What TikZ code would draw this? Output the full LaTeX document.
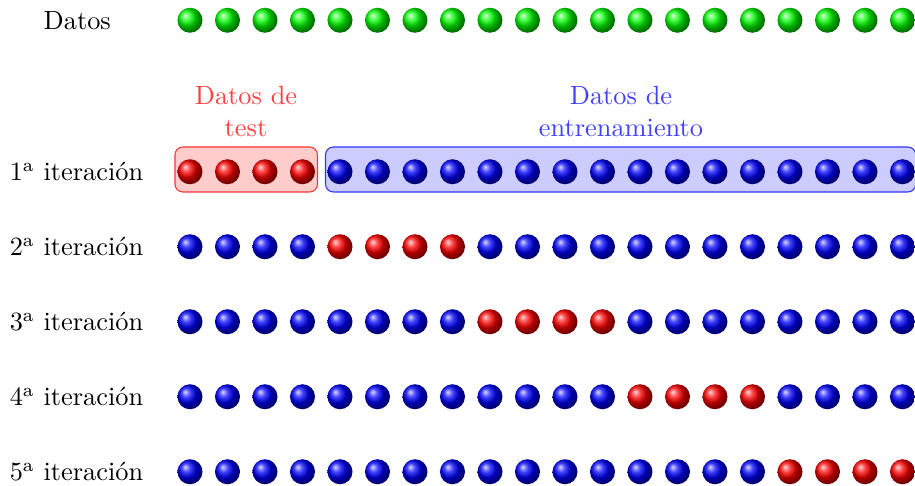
\documentclass[tikz,border=0pt]{standalone}
\usepackage{fontspec}
\usetikzlibrary{shadings}
\tikzset{
  ballnode/.style={circle, minimum size=0.34cm, inner sep=0pt},
  rowlabel/.style={anchor=center},
  testbox/.style={draw=red!80, fill=red!20, rounded corners=3pt, minimum height=0.6cm, inner sep=0pt},
  trainbox/.style={draw=blue!80, fill=blue!20, rounded corners=3pt, minimum height=0.6cm, inner sep=0pt},
  testlabel/.style={text=red!75, align=center},
  trainlabel/.style={text=blue!75, align=center}
}
\begin{document}
\begin{tikzpicture}
\useasboundingbox (0,0) rectangle (12.2,6.48);
% boxes
\node[testbox, minimum width=1.9cm] (tbox) at (3.283,4.22) {};
\node[trainbox, minimum width=7.87cm] (ebox) at (8.275,4.22) {};
\node[testlabel] (tlab) at (3.28,4.99) {Datos de\\test};
\node[trainlabel] (elab) at (8.28,4.99) {Datos de\\entrenamiento};
% data row
\node[rowlabel] (l0) at (1.03,6.21) {Datos};
\foreach \i in {0,...,19} {
  \shade[ball color=green] (2.533+0.5*\i,6.21) circle (0.167cm);
  \node[ballnode] (b0-\i) at (2.533+0.5*\i,6.21) {};
}
% iterations
\foreach \k in {1,...,5} {
  \pgfmathsetmacro{\yy}{4.19-(\k-1)}
  \node[rowlabel] (l\k) at (1.02,\yy) {\k\textsuperscript{a} iteración};
  \foreach \i in {0,...,19} {
    \pgfmathtruncatemacro{\lo}{4*(\k-1)}
    \pgfmathtruncatemacro{\hi}{4*(\k-1)+3}
    \ifnum\i<\lo
      \shade[ball color=blue] (2.533+0.5*\i,\yy) circle (0.167cm);
    \else\ifnum\i>\hi
      \shade[ball color=blue] (2.533+0.5*\i,\yy) circle (0.167cm);
    \else
      \shade[ball color=red] (2.533+0.5*\i,\yy) circle (0.167cm);
    \fi\fi
    \node[ballnode] (b\k-\i) at (2.533+0.5*\i,\yy) {};
  }
}
\end{tikzpicture}
\end{document}
